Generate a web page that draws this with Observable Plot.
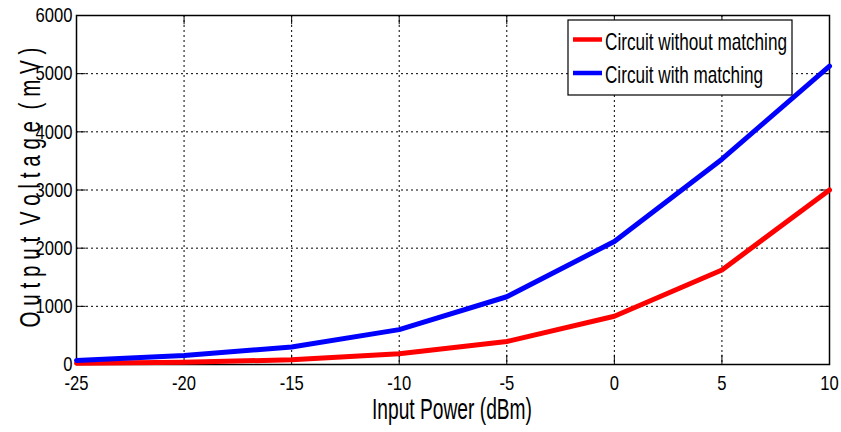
<!DOCTYPE html>
<html>
<head>
<meta charset="utf-8">
<script src="https://cdn.jsdelivr.net/npm/d3@7"></script>
<script src="https://cdn.jsdelivr.net/npm/@observablehq/plot@0.6"></script>
<style>
  html, body { margin: 0; padding: 0; background: #fff; }
  #wrap { position: relative; width: 841px; height: 432px; }
</style>
</head>
<body>
<div id="wrap"></div>
<script>
const powers = [-25, -20, -15, -10, -5, 0, 5, 10];
const withoutMatching = [20, 40, 80, 185, 395, 830, 1625, 3000];
const withMatching = [70, 155, 300, 600, 1165, 2115, 3530, 5130];
const seriesNames = ["Circuit without matching", "Circuit with matching"];
const seriesColors = ["#ff0000", "#0000ff"];
const xTicks = [-25, -20, -15, -10, -5, 0, 5, 10];
const yTicks = [0, 1000, 2000, 3000, 4000, 5000, 6000];
const xLabel = "Input Power (dBm)";
const yLabel = "O u t p u t  V o l t a g e  ( m V )";

const rows = [];
powers.forEach((p, i) => {
  rows.push({x: p, y: withoutMatching[i], s: seriesNames[0]});
  rows.push({x: p, y: withMatching[i], s: seriesNames[1]});
});

const font = "'Liberation Sans', Arial, sans-serif";
const xMin = -25, xMax = 10, yMin = 0, yMax = 6000;
const tickX = 0.45, tickY = 160; // inner tick length in data units (~9px)
const dash = "2,3";

const chart = Plot.plot({
  width: 841,
  height: 432,
  marginLeft: 76,
  marginRight: 12,
  marginTop: 15,
  marginBottom: 68,
  style: {fontFamily: font, fontSize: "21px", color: "#000", background: "#fff"},
  x: {domain: [xMin, xMax]},
  y: {domain: [yMin, yMax]},
  color: {domain: seriesNames, range: seriesColors},
  marks: [
    Plot.ruleX(xTicks.slice(1, -1), {x: d => d, stroke: "#000", strokeWidth: 1, strokeDasharray: dash}),
    Plot.ruleY(yTicks.slice(1, -1), {y: d => d, stroke: "#000", strokeWidth: 1, strokeDasharray: dash}),
    Plot.ruleX(xTicks, {x: d => d, y1: yMin, y2: yMin + tickY, stroke: "#000"}),
    Plot.ruleX(xTicks, {x: d => d, y1: yMax - tickY, y2: yMax, stroke: "#000"}),
    Plot.ruleY(yTicks, {y: d => d, x1: xMin, x2: xMin + tickX, stroke: "#000"}),
    Plot.ruleY(yTicks, {y: d => d, x1: xMax - tickX, x2: xMax, stroke: "#000"}),
    Plot.frame({stroke: "#000", strokeWidth: 1.5}),
    Plot.axisX(xTicks, {tickSize: 0, tickPadding: 11, fontSize: 21, label: null, tickFormat: d => String(d)}),
    Plot.axisY(yTicks, {tickSize: 0, tickPadding: 4, fontSize: 21, label: null, tickFormat: d => String(d)}),
    Plot.line(rows, {x: "x", y: "y", stroke: "s", strokeWidth: 5, z: "s"}),
    Plot.text([xLabel], {frameAnchor: "bottom", dy: 54, fontSize: 29, fill: "#000"}),
    Plot.text([yLabel], {frameAnchor: "left", textAnchor: "middle", rotate: -90, dx: -48, fontSize: 29, fill: "#000"})
  ]
});

document.getElementById("wrap").appendChild(chart);

const svg = d3.select(chart);

// Legend drawn into the SVG from the series arrays
const lg = svg.append("g").attr("font-family", font).attr("font-size", 24).attr("text-anchor", "start");
lg.append("rect").attr("x", 568).attr("y", 20).attr("width", 224).attr("height", 75)
  .attr("fill", "#fff").attr("stroke", "#000").attr("stroke-width", 1.2);
const legendWidths = [182, 158];
seriesNames.forEach((n, i) => {
  const cy = 39.5 + i * 33.5;
  lg.append("line").attr("x1", 573).attr("x2", 602).attr("y1", cy).attr("y2", cy)
    .attr("stroke", seriesColors[i]).attr("stroke-width", 4.5);
  lg.append("text").attr("x", 605).attr("y", cy + 10).attr("fill", "#000")
    .attr("text-anchor", "start")
    .attr("textLength", legendWidths[i]).attr("lengthAdjust", "spacingAndGlyphs").text(n);
});

// Condense texts to mimic the narrow font of the original, keeping anchors
const svgRect = chart.getBoundingClientRect();
function box(el) {
  const r = el.getBoundingClientRect();
  return {l: r.left - svgRect.left, r: r.right - svgRect.left, t: r.top - svgRect.top, b: r.bottom - svgRect.top};
}
function shift(el, dx, dy) {
  const old = el.getAttribute("transform") || "";
  el.setAttribute("transform", `translate(${dx},${dy}) ${old}`);
}
svg.selectAll("text").each(function() {
  if (this.getAttribute("textLength")) return;
  const t = this.textContent;
  const b0 = box(this);
  const len = this.getComputedTextLength();
  const anchor = getComputedStyle(this).textAnchor;
  let target = len * 0.79;
  if (t === yLabel) target = 280;
  if (t === xLabel) target = 160;
  this.setAttribute("textLength", target);
  this.setAttribute("lengthAdjust", "spacingAndGlyphs");
  const b1 = box(this);
  if (t === yLabel) {
    // place: vertical span ~48..327, letters starting at x~14
    shift(this, 14 - b1.l, 187.5 - (b1.t + b1.b) / 2);
    return;
  }
  if (t === xLabel) {
    shift(this, 452 - (b1.l + b1.r) / 2, 0);
    return;
  }
  let dx = 0;
  if (anchor === "end") dx = b0.r - b1.r;
  else if (anchor === "start") dx = b0.l - b1.l;
  else dx = (b0.l + b0.r) / 2 - (b1.l + b1.r) / 2;
  shift(this, dx, 0);
});
</script>
</body>
</html>
